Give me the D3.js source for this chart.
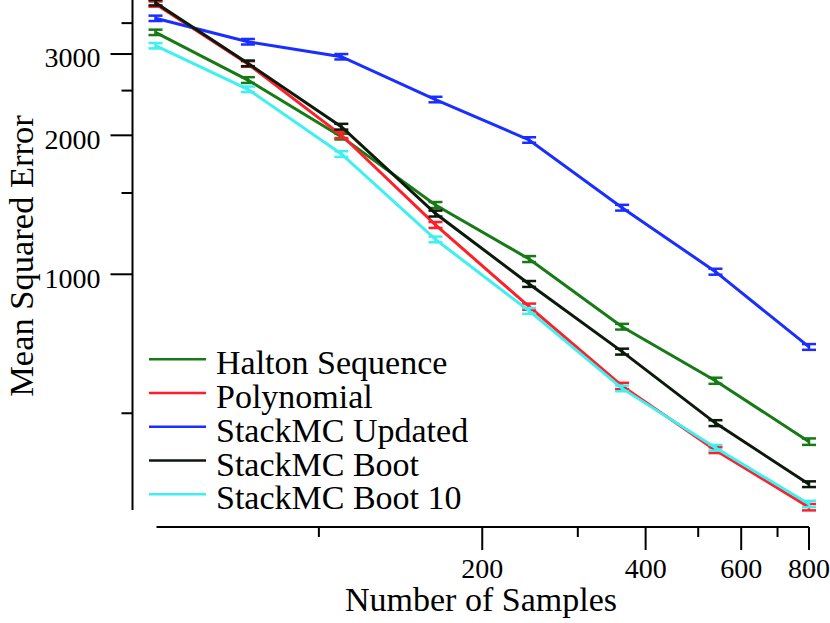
<!DOCTYPE html>
<html>
<head>
<meta charset="utf-8">
<script src="https://cdn.jsdelivr.net/npm/d3@7"></script>
<style>
  html, body { margin: 0; padding: 0; background: #fff; }
  svg { display: block; font-family: "Liberation Serif", "DejaVu Serif", serif; }
</style>
</head>
<body>
<svg id="chart" width="830" height="623"></svg>
<script>
// ---- data ----
const samples = [50, 74, 110, 164, 244, 362, 538, 800];
const seriesNames = ["Halton Sequence", "Polynomial", "StackMC Updated", "StackMC Boot", "StackMC Boot 10"];
const seriesColors = ["#177a17", "#ff1f2a", "#1a2eff", "#0c1a0c", "#3ff0f0"];
const haltonMSE   = [3343, 2635, 1987, 1413, 1079, 770, 588, 434];
const haltonErr   = [45, 38, 28, 21, 16, 11, 9, 7];
const polyMSE     = [3849, 2855, 2003, 1279, 851, 573, 416, 313];
const polyErr     = [50, 40, 30, 19, 13, 9, 6, 5];
const updatedMSE  = [3585, 3190, 2960, 2391, 1954, 1394, 1013, 696];
const updatedErr  = [48, 44, 40, 33, 27, 20, 15, 10];
const bootMSE     = [3875, 2864, 2088, 1354, 953, 680, 476, 351];
const bootErr     = [52, 40, 30, 20, 14, 10, 7, 5];
const boot10MSE   = [3127, 2516, 1822, 1190, 833, 566, 421, 318];
const boot10Err   = [42, 35, 26, 17, 12, 8, 6, 5];
const yTickValues = [500, 1000, 1500, 2000, 2500, 3000, 3500];
const yTickLabels = ["", "1000", "", "2000", "", "3000", ""];
const xTickValues = [100, 200, 300, 400, 500, 600, 700, 800];
const xTickLabels = ["", "200", "", "400", "", "600", "", "800"];

const seriesValues = [haltonMSE, polyMSE, updatedMSE, bootMSE, boot10MSE];
const seriesErrors = [haltonErr, polyErr, updatedErr, bootErr, boot10Err];
const series = seriesNames.map((name, i) => ({
  name, color: seriesColors[i],
  points: samples.map((s, j) => ({ x: s, y: seriesValues[i][j], e: seriesErrors[i][j] }))
}));

// ---- layout ----
const svg = d3.select("#chart");
const xAxisY = 527, yAxisX = 132.5;
const x = d3.scaleLog().domain([50, 800]).range([155.5, 809]);
const y = d3.scaleLog().domain([308.6, 3928]).range([510, 0]);

// y axis
const yAxisG = svg.append("g").attr("transform", `translate(${yAxisX},0)`);
yAxisG.append("line").attr("x1", 0).attr("x2", 0).attr("y1", 0).attr("y2", 510)
  .attr("stroke", "#000").attr("stroke-width", 2);
yTickValues.forEach((v, i) => {
  const major = yTickLabels[i] !== "";
  yAxisG.append("line").attr("x1", major ? -22 : -11).attr("x2", 0)
    .attr("y1", y(v)).attr("y2", y(v)).attr("stroke", "#000").attr("stroke-width", 2);
  if (major) {
    yAxisG.append("text").attr("x", -32).attr("y", y(v)).attr("dy", "0.48em")
      .attr("text-anchor", "end").attr("font-size", 28).text(yTickLabels[i]);
  }
});

// x axis
const xAxisG = svg.append("g").attr("transform", `translate(0,${xAxisY})`);
xAxisG.append("line").attr("x1", x(50) + 1).attr("x2", x(800)).attr("y1", 0).attr("y2", 0)
  .attr("stroke", "#000").attr("stroke-width", 2);
xTickValues.forEach((v, i) => {
  const major = xTickLabels[i] !== "";
  xAxisG.append("line").attr("x1", x(v)).attr("x2", x(v))
    .attr("y1", 0).attr("y2", major ? 23 : 10).attr("stroke", "#000").attr("stroke-width", 2);
  if (major) {
    xAxisG.append("text").attr("x", x(v)).attr("y", 51)
      .attr("text-anchor", "middle").attr("font-size", 28).text(xTickLabels[i]);
  }
});

// axis titles
svg.append("text").attr("x", 481).attr("y", 611).attr("text-anchor", "middle")
  .attr("font-size", 34).text("Number of Samples");
svg.append("text").attr("transform", "translate(33,256) rotate(-90)")
  .attr("text-anchor", "middle").attr("font-size", 34.5).text("Mean Squared Error");

// series
const line = d3.line().x(d => x(d.x)).y(d => y(d.y));
const gSeries = svg.append("g");
series.forEach(s => {
  const g = gSeries.append("g");
  g.append("path").datum(s.points).attr("d", line)
    .attr("fill", "none").attr("stroke", s.color).attr("stroke-width", 3);
  const eb = g.selectAll("g.eb").data(s.points).enter().append("g");
  eb.append("line").attr("x1", d => x(d.x)).attr("x2", d => x(d.x))
    .attr("y1", d => y(d.y - d.e)).attr("y2", d => y(d.y + d.e))
    .attr("stroke", s.color).attr("stroke-width", 2.5);
  eb.append("line").attr("x1", d => x(d.x) - 7).attr("x2", d => x(d.x) + 7)
    .attr("y1", d => y(d.y + d.e)).attr("y2", d => y(d.y + d.e))
    .attr("stroke", s.color).attr("stroke-width", 2.5);
  eb.append("line").attr("x1", d => x(d.x) - 7).attr("x2", d => x(d.x) + 7)
    .attr("y1", d => y(d.y - d.e)).attr("y2", d => y(d.y - d.e))
    .attr("stroke", s.color).attr("stroke-width", 2.5);
});

// legend
const legend = svg.append("g").attr("transform", "translate(149,359.3)");
series.forEach((s, i) => {
  const gy = i * 33.75;
  legend.append("line").attr("x1", 0).attr("x2", 57).attr("y1", gy).attr("y2", gy)
    .attr("stroke", s.color).attr("stroke-width", 2.5);
  legend.append("text").attr("x", 67).attr("y", gy + 15)
    .attr("font-size", 34).text(s.name);
});
</script>
</body>
</html>
